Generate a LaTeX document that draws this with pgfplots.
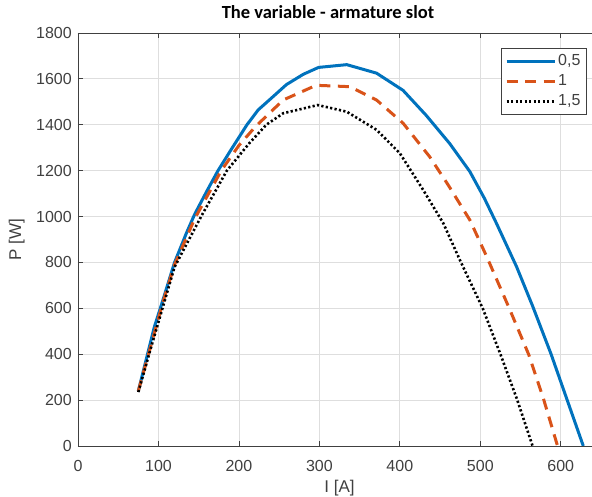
\documentclass[border=0pt]{standalone}
\usepackage{fontspec}
\setmainfont{Liberation Sans}
\newfontfamily\titlefont{Carlito}
\usepackage{pgfplots}
\pgfplotsset{compat=1.18}

\definecolor{mblue}{HTML}{0072BD}
\definecolor{morange}{HTML}{D95319}
\definecolor{axgray}{HTML}{404040}
\definecolor{gridgray}{HTML}{DEDEDE}

\begin{document}
\begin{tikzpicture}
\begin{axis}[
    at={(78pt,51pt)}, anchor=south west,
    scale only axis,
    width=523pt, height=413pt,
    xmin=0, xmax=650,
    ymin=0, ymax=1800,
    xtick={0,100,...,600},
    ytick={0,200,...,1800},
    grid=major,
    major grid style={gridgray, line width=0.8pt},
    axis line style={axgray, line width=0.9pt},
    tick style={axgray, line width=0.8pt},
    tick align=inside,
    major tick length=5pt,
    /pgf/number format/assume math mode=true,
    /pgf/number format/1000 sep={},
    ticklabel style={font=\fontsize{16}{19}\selectfont, text=axgray},
    xticklabel style={inner sep=0pt, anchor=north, yshift=-14pt},
    yticklabel style={inner sep=0pt, anchor=east, xshift=-6pt},
    title={The variable - armature slot},
    title style={font=\titlefont\bfseries\fontsize{18.5}{20}\selectfont,
        at={(axis description cs:0.478,1.0194)}, anchor=base, inner sep=0pt},
    xlabel={I [A]},
    xlabel style={font=\fontsize{17}{20}\selectfont, text=axgray,
        at={(axis description cs:0.5,-0.113)}, anchor=base, inner sep=0pt},
    ylabel={P [W]},
    ylabel style={font=\fontsize{17}{20}\selectfont, text=axgray,
        at={(axis description cs:-0.117,0.5)}, anchor=center},
    legend style={at={(0.973,0.964)}, anchor=north east,
        draw=axgray, line width=0.8pt,
        font=\fontsize{16}{19}\selectfont, text=axgray,
        inner xsep=4pt, inner ysep=3pt, row sep=0pt,
        nodes={text height=12pt, text depth=4pt, inner sep=2pt}},
    legend cell align=left,
    legend image code/.code={\draw[#1] (0pt,0pt) -- (48pt,0pt);},
]
% 0,5
\addplot[mblue, line width=3pt] coordinates {
(75,240) (85,380) (95,520) (105,630) (120,800) (135,930) (145,1010)
(160,1110) (174,1200) (190,1290) (210,1400) (224,1465) (240,1515)
(259,1575) (280,1620) (299,1650) (334,1662) (371,1625) (404,1550)
(433,1440) (462,1318) (487,1196) (505,1080) (520,971) (545,782)
(565,610) (588,400) (608,200) (628,0)
};
\addlegendentry{0,5}
% 1
\addplot[morange, line width=3pt, dash pattern=on 11pt off 7.5pt] coordinates {
(75,240) (90,430) (105,620) (120,790) (145,990) (178,1200) (200,1310)
(220,1390) (255,1508) (296,1572) (338,1566) (371,1508) (404,1407)
(437,1261) (460,1138) (487,985) (508,825) (536,600) (560,400)
(579,200) (596,0)
};
\addlegendentry{1}
% 1,5
\addplot[black, line width=2.6pt, dash pattern=on 2.2pt off 2.3pt] coordinates {
(75,235) (90,420) (105,600) (120,780) (153,1000) (185,1200) (213,1320)
(234,1400) (255,1450) (298,1486) (334,1457) (371,1378) (400,1276)
(429,1116) (454,971) (476,800) (503,600) (525,400) (546,200) (565,0)
};
\addlegendentry{1,5}
\end{axis}
\pgfresetboundingbox
\useasboundingbox (0,0) rectangle (592pt,497pt);
\end{tikzpicture}
\end{document}
